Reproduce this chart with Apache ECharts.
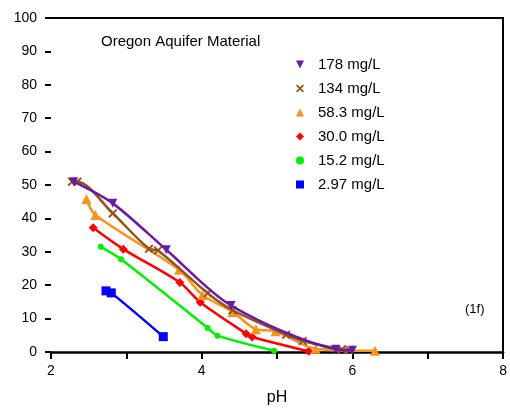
<!DOCTYPE html>
<html>
<head>
<meta charset="utf-8">
<script src="https://cdn.jsdelivr.net/npm/echarts@6/dist/echarts.min.js"></script>
<style>
html, body { margin: 0; padding: 0; background: #fff; }
#main { width: 510px; height: 412px; }
</style>
</head>
<body>
<div id="main"></div>
<script>
var chart = echarts.init(document.getElementById('main'));

// values, [pH, value]
var names = ['178 mg/L', '134 mg/L', '58.3 mg/L', '30.0 mg/L', '15.2 mg/L', '2.97 mg/L'];
var colors = ['#6a1ba6', '#9a5019', '#f7931e', '#ff0000', '#00ee00', '#0000ff'];

var s178 = [[2.30, 51.0], [2.82, 44.5], [3.53, 30.6], [4.39, 13.9], [5.78, 0.8], [6.00, 0.5]];
var s134 = [[2.28, 51.0], [2.35, 51.0], [2.82, 41.5], [3.30, 30.9], [3.42, 30.4], [4.08, 17.6], [4.41, 12.5], [5.12, 5.2], [5.34, 3.3], [5.86, 0.8], [5.96, 0.6]];
var s58 = [[2.47, 45.8], [2.59, 41.0], [3.70, 24.6], [4.01, 17.1], [4.41, 12.0], [4.72, 6.8], [4.98, 6.2], [5.51, 1.0], [6.30, 0.4]];
var s30 = [[2.56, 37.2], [2.96, 30.8], [3.71, 20.8], [3.98, 14.9], [4.59, 5.5], [4.67, 4.5], [5.42, 0.2]];
var s15 = [[2.66, 31.5], [2.93, 27.8], [4.08, 7.2], [4.21, 4.9], [4.96, 0.4]];
var s3 = [[2.73, 18.3], [2.80, 17.7], [3.49, 4.6]];

var xTicks = [2, 4, 6, 8];

var downTri = 'path://M0,0 L10,0 L5,10 Z';
var crossPath = 'path://M0,1.5 L1.5,0 L5,3.5 L8.5,0 L10,1.5 L6.5,5 L10,8.5 L8.5,10 L5,6.5 L1.5,10 L0,8.5 L3.5,5 Z';
var symbols = [downTri, crossPath, 'triangle', 'diamond', 'circle', 'rect'];
var sizes = [9, 9, 10, 9, 6, 9];
var allData = [s178, s134, s58, s30, s15, s3];

var series = [];
for (var i = 0; i < allData.length; i++) {
    series.push({
        name: names[i],
        type: 'line',
        data: allData[i],
        smooth: 0.3,
        symbol: symbols[i],
        symbolSize: sizes[i],
        showAllSymbol: true,
        lineStyle: { color: colors[i], width: 2.5 },
        itemStyle: { color: colors[i] },
        z: 10 - i
    });
}

var option = {
    animation: false,
    textStyle: { fontFamily: 'Liberation Sans, Arial, sans-serif' },
    grid: { left: 51, right: 4, top: 18, bottom: 60 },
    legend: {
        orient: 'vertical',
        left: 291,
        top: 52,
        itemWidth: 8,
        itemHeight: 8,
        itemGap: 9,
        textStyle: { fontSize: 15, color: '#000', padding: [0, 0, 0, 9], fontFamily: 'Liberation Sans, Arial, sans-serif' },
        data: names.map(function (n, i) {
            return { name: n, icon: symbols[i], itemStyle: { color: colors[i] } };
        })
    },
    graphic: [
        { type: 'text', left: 101, top: 34, style: { text: 'Oregon Aquifer Material', font: '15px Liberation Sans, Arial', fill: '#000' } },
        { type: 'text', left: 465, top: 303, style: { text: '(1f)', font: '13px Liberation Sans, Arial', fill: '#000' } }
    ],
    xAxis: [{
        type: 'value',
        min: 2, max: 8, interval: 1,
        name: 'pH',
        nameLocation: 'middle',
        nameGap: 38,
        nameTextStyle: { fontSize: 16, color: '#000' },
        axisLine: { onZero: false, lineStyle: { color: '#000', width: 2.5 } },
        axisTick: { length: 7, lineStyle: { color: '#000', width: 2 } },
        axisLabel: {
            fontSize: 14, color: '#000', margin: 12,
            formatter: function (v) { return xTicks.indexOf(v) >= 0 ? String(v) : ''; }
        },
        splitLine: { show: false }
    }, {
        type: 'value', position: 'top',
        min: 2, max: 8,
        axisLine: { onZero: false, lineStyle: { color: '#000', width: 2 } },
        axisTick: { show: false }, axisLabel: { show: false }, splitLine: { show: false }
    }],
    yAxis: [{
        type: 'value',
        min: 0, max: 100, interval: 10,
        axisLine: { show: false },
        axisTick: { show: true, length: 6, lineStyle: { color: '#000', width: 2 } },
        axisLabel: { fontSize: 14, color: '#000', margin: 14 },
        splitLine: { show: false }
    }, {
        type: 'value', position: 'right',
        min: 0, max: 100,
        axisLine: { show: true, onZero: false, lineStyle: { color: '#000', width: 2 } },
        axisTick: { show: false }, axisLabel: { show: false }, splitLine: { show: false }
    }],
    series: series
};

chart.setOption(option);
</script>
</body>
</html>
